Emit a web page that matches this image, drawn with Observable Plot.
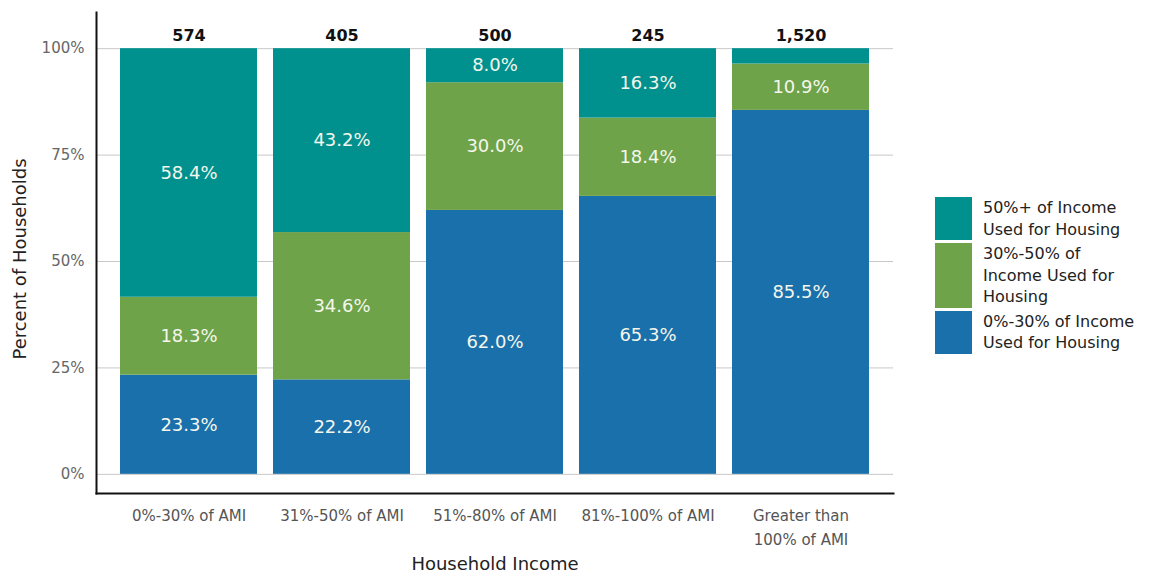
<!DOCTYPE html>
<html>
<head>
<meta charset="utf-8">
<script src="https://cdn.jsdelivr.net/npm/d3@7"></script>
<script src="https://cdn.jsdelivr.net/npm/@observablehq/plot@0.6"></script>
<style>
  html, body { margin: 0; padding: 0; background: #fff; }
  #wrap { position: relative; width: 1157px; height: 574px; font-family: "DejaVu Sans", sans-serif; }
  #legend { position: absolute; left: 935px; top: 197px; color: #222; font-size: 16px; line-height: 21.5px; }
  .item { display: flex; align-items: stretch; margin-bottom: 3px; }
  .sw { width: 37px; margin-right: 11px; flex: none; }
  .lab { white-space: pre-line; }
</style>
</head>
<body>
<div id="wrap"><div id="chart"></div><div id="legend"></div></div>
<script>
const categories = ["0%-30% of AMI", "31%-50% of AMI", "51%-80% of AMI", "81%-100% of AMI", "Greater than\n100% of AMI"];
const totals = [574, 405, 500, 245, 1520];
const seriesNames = ["0%-30% of Income Used for Housing", "30%-50% of Income Used for Housing", "50%+ of Income Used for Housing"];
const legendLabels = ["50%+ of Income\nUsed for Housing", "30%-50% of\nIncome Used for\nHousing", "0%-30% of Income\nUsed for Housing"];
const colors = ["#1a70ab", "#6ea34a", "#00918f"];
const lowShare = [23.3, 22.2, 62.0, 65.3, 85.5];
const midShare = [18.3, 34.6, 30.0, 18.4, 10.9];
const highShare = [58.4, 43.2, 8.0, 16.3, 3.6];
const highLabeled = [true, true, true, true, false];
const yTicks = [0, 25, 50, 75, 100];

const rows = [];
categories.forEach((c, i) => {
  rows.push({cat: c, series: seriesNames[0], value: lowShare[i], show: true});
  rows.push({cat: c, series: seriesNames[1], value: midShare[i], show: true});
  rows.push({cat: c, series: seriesNames[2], value: highShare[i], show: highLabeled[i]});
});
const totalRows = categories.map((c, i) => ({cat: c, n: totals[i]}));
const fmt = d3.format(",");

const chart = Plot.plot({
  width: 1157,
  height: 574,
  marginLeft: 96,
  marginRight: 264,
  marginTop: 12,
  marginBottom: 81,
  style: {fontFamily: "DejaVu Sans, sans-serif", background: "white"},
  x: {domain: categories, paddingInner: 0.105, paddingOuter: 0.157},
  y: {domain: [-4.5, 108.5]},
  color: {domain: seriesNames, range: colors},
  marks: [
    Plot.ruleY(yTicks, {stroke: "#c8c8c8", strokeWidth: 1}),
    Plot.barY(rows, {x: "cat", y: "value", fill: "series", order: seriesNames}),
    Plot.text(rows, Plot.stackY({x: "cat", y: "value", z: "series", order: seriesNames,
      text: d => d.show ? d.value.toFixed(1) + "%" : "", fill: "#f5f7ec", fontSize: 18})),
    Plot.text(totalRows, {x: "cat", y: 100, text: d => fmt(d.n), dy: -13, fontSize: 16, fontWeight: "bold", fill: "#111"}),
    Plot.axisY({ticks: yTicks, tickFormat: d => d + "%", tickSize: 0, tickPadding: 12, fontSize: 15, color: "#666", label: null}),
    Plot.axisX({tickSize: 0, tickPadding: 10, fontSize: 15, color: "#555", label: null, lineHeight: 1.6}),
    Plot.frame({anchor: "left", stroke: "#111", strokeWidth: 2}),
    Plot.frame({anchor: "bottom", stroke: "#111", strokeWidth: 2}),
    Plot.text(["Percent of Households"], {frameAnchor: "left", textAnchor: "middle", rotate: -90, dx: -76, dy: 6, fontSize: 18, fill: "#222"}),
    Plot.text(["Household Income"], {frameAnchor: "bottom", dy: 76, fontSize: 18, fill: "#222"})
  ]
});
document.getElementById("chart").appendChild(chart);

const legend = document.getElementById("legend");
const legendColors = [colors[2], colors[1], colors[0]];
legendLabels.forEach((l, i) => {
  const item = document.createElement("div");
  item.className = "item";
  const sw = document.createElement("div");
  sw.className = "sw";
  sw.style.background = legendColors[i];
  const lab = document.createElement("div");
  lab.className = "lab";
  lab.textContent = l;
  item.appendChild(sw);
  item.appendChild(lab);
  legend.appendChild(item);
});
</script>
</body>
</html>
